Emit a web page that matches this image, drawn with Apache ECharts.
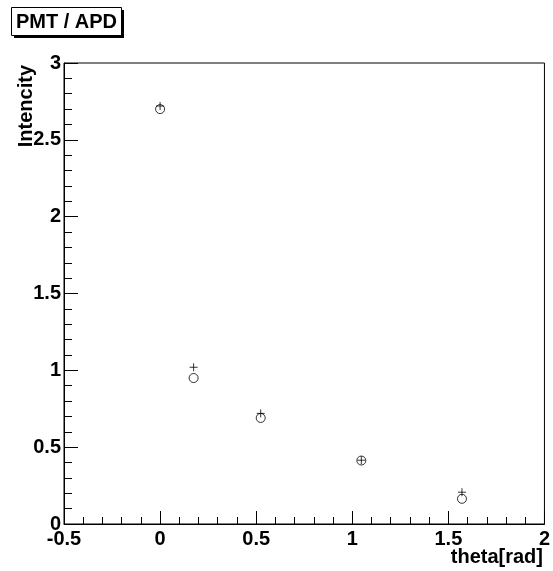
<!DOCTYPE html>
<html>
<head>
<meta charset="utf-8">
<script src="https://cdn.jsdelivr.net/npm/echarts@6/dist/echarts.min.js"></script>
<style>
html,body{margin:0;padding:0;background:#fff;}
#c{width:553px;height:571px;}
</style>
</head>
<body>
<div id="c"></div>
<script>
// Data
const theta = [0, 0.1745, 0.5236, 1.0472, 1.5708];
const circleValues = [2.70, 0.95, 0.69, 0.413, 0.164];
const plusValues = [2.72, 1.02, 0.72, 0.415, 0.207];
const seriesNames = ['PMT', 'APD'];
const titleText = 'PMT / APD';
const xTitle = 'theta[rad]';
const yTitle = 'Intencity';

const FONT = '"Liberation Sans", Arial, Helvetica, sans-serif';

const chart = echarts.init(document.getElementById('c'), null, {renderer: 'canvas'});

const axisLabelStyle = {color: '#000', fontFamily: FONT, fontWeight: 'bold', fontSize: 20};

const option = {
  animation: false,
  backgroundColor: '#fff',
  grid: {left: 64, right: 8, top: 63, bottom: 47, show: true, borderColor: '#000', borderWidth: 1, backgroundColor: 'transparent'},
  xAxis: {
    type: 'value', min: -0.5, max: 2, interval: 0.5,
    axisLine: {show: true, onZero: false, lineStyle: {color: '#000', width: 1}},
    axisTick: {show: true, inside: true, length: 13, lineStyle: {color: '#000'}},
    minorTick: {show: true, splitNumber: 5, length: 7, lineStyle: {color: '#000'}},
    splitLine: {show: false},
    axisLabel: Object.assign({margin: 5}, axisLabelStyle)
  },
  yAxis: {
    type: 'value', min: 0, max: 3, interval: 0.5,
    axisLine: {show: true, onZero: false, lineStyle: {color: '#000', width: 1}},
    axisTick: {show: true, inside: true, length: 14, lineStyle: {color: '#000'}},
    minorTick: {show: true, splitNumber: 5, length: 8, lineStyle: {color: '#000'}},
    splitLine: {show: false},
    axisLabel: Object.assign({margin: 3}, axisLabelStyle)
  },
  series: [
    {
      name: seriesNames[0], type: 'scatter',
      data: theta.map((t, i) => [t, circleValues[i]]),
      symbol: 'circle', symbolSize: 9,
      itemStyle: {color: 'rgba(0,0,0,0)', borderColor: '#000', borderWidth: 1}
    },
    {
      name: seriesNames[1], type: 'scatter',
      data: theta.map((t, i) => [t, plusValues[i]]),
      symbol: 'path://M5,0L5,10M0,5L10,5', symbolSize: 8,
      itemStyle: {color: 'rgba(0,0,0,0)', borderColor: '#000', borderWidth: 1}
    }
  ],
  graphic: [
    {type: 'rect', shape: {x: 14, y: 10, width: 110, height: 28}, style: {fill: '#000'}},
    {type: 'rect', shape: {x: 11.5, y: 7.5, width: 110, height: 28}, style: {fill: '#fff', stroke: '#000', lineWidth: 1}},
    {type: 'text', x: 66.5, y: 22, style: {text: titleText, font: 'bold 20px ' + FONT, fill: '#000', align: 'center', verticalAlign: 'middle'}},
    {type: 'text', x: 543, y: 547, style: {text: xTitle, font: 'bold 20px ' + FONT, fill: '#000', align: 'right', verticalAlign: 'top'}},
    {type: 'text', x: 26, y: 65, rotation: Math.PI / 2, style: {text: yTitle, font: 'bold 20px ' + FONT, fill: '#000', align: 'right', verticalAlign: 'middle'}}
  ]
};
chart.setOption(option);
</script>
</body>
</html>
